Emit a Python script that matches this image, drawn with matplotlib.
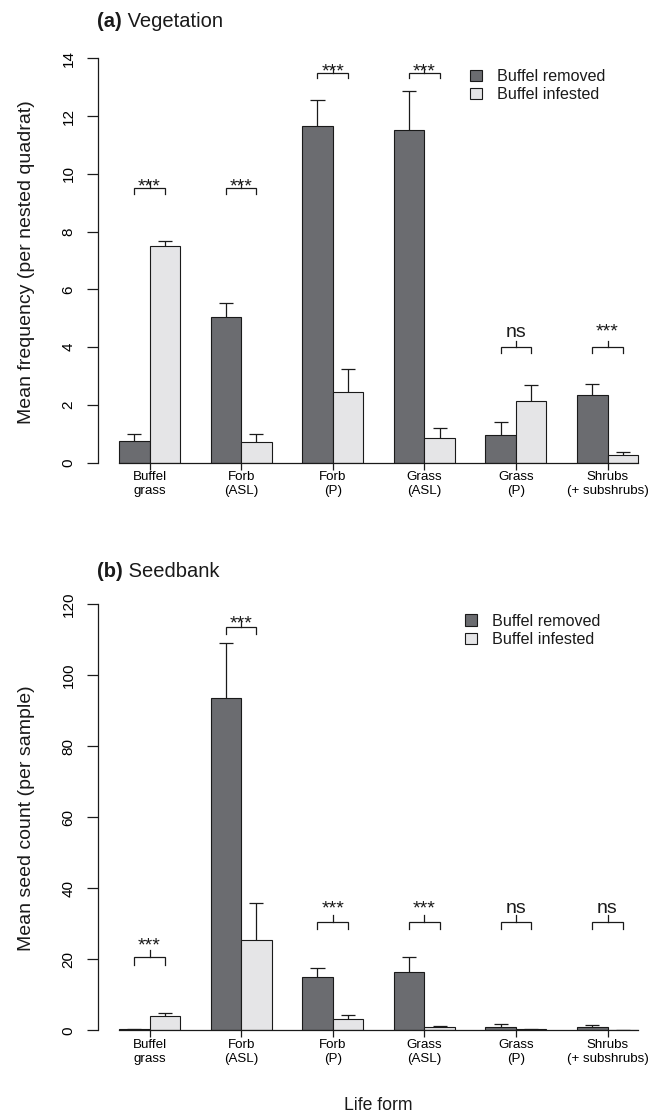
import numpy as np
import matplotlib
matplotlib.use("Agg")
import matplotlib.pyplot as plt

plt.rcParams['font.family'] = ['Liberation Sans', 'DejaVu Sans']
plt.rcParams['text.color'] = '#1a1a1a'

# data
life_forms = ["Buffel\ngrass", "Forb\n(ASL)", "Forb\n(P)", "Grass\n(ASL)", "Grass\n(P)",
              "Shrubs\n(+ subshrubs)"]

veg_removed = [0.75, 5.05, 11.66, 11.50, 0.96, 2.34]
veg_removed_se = [0.22, 0.48, 0.90, 1.37, 0.45, 0.39]
veg_infested = [7.50, 0.71, 2.43, 0.84, 2.13, 0.25]
veg_infested_se = [0.17, 0.29, 0.80, 0.35, 0.54, 0.12]
veg_bracket = [9.5, 9.5, 13.5, 13.5, 4.0, 4.0]
veg_sig = ["***", "***", "***", "***", "ns", "***"]
veg_sig_y = [9.37, 9.37, 13.38, 13.38, 4.35, 4.35]

seed_removed = [0.3, 93.4, 15.1, 16.5, 1.0, 0.9]
seed_removed_se = [0.2, 15.5, 2.3, 4.1, 0.9, 0.5]
seed_infested = [3.9, 25.5, 3.1, 0.8, 0.3, 0.1]
seed_infested_se = [1.1, 10.3, 1.1, 0.3, 0.1, 0.05]
seed_bracket = [20.5, 113.5, 30.5, 30.5, 30.5, 30.5]
seed_sig = ["***", "***", "***", "***", "ns", "ns"]
seed_sig_y = [22.6, 113.2, 33.0, 33.0, 33.0, 33.0]

DARK = '#6b6c70'
LIGHT = '#e5e5e7'
INK = '#1a1a1a'

W, H = 662, 1116
fig = plt.figure(figsize=(W / 100, H / 100), dpi=100)


def axes_px(left, top, right, bottom):
    return fig.add_axes([left / W, 1 - bottom / H, (right - left) / W, (bottom - top) / H])


def panel(ax, removed, removed_se, infested, infested_se, bracket, sig, sig_y,
          leg, yticks, ytop, ylabel, tag, title, title_y, ylabel_y, legend_xy):
    n = len(removed)
    g = np.arange(n) * 3
    xr = g + 0.5
    xi = g + 1.5
    removed = np.array(removed)
    infested = np.array(infested)

    ax.bar(xr, removed, width=1, color=DARK, edgecolor=INK, linewidth=0.8,
           label='Buffel removed', zorder=2)
    ax.bar(xi, infested, width=1, color=LIGHT, edgecolor=INK, linewidth=0.8,
           label='Buffel infested', zorder=2)

    # upper error bars only
    for x, v, e in [(xr, removed, removed_se), (xi, infested, infested_se)]:
        top = v + np.array(e)
        ax.vlines(x, v, top, color=INK, lw=0.9, zorder=3)
        ax.hlines(top, x - 0.23, x + 0.23, color=INK, lw=0.9, zorder=3)

    # significance brackets
    for i in range(n):
        y = bracket[i]
        ax.plot([xr[i], xr[i], xi[i], xi[i]], [y - leg, y, y, y - leg],
                color=INK, lw=0.9, solid_joinstyle='miter', zorder=3)
        ax.plot([g[i] + 1, g[i] + 1], [y, y + leg], color=INK, lw=0.9, zorder=3)
        ax.text(g[i] + 1, sig_y[i], sig[i], ha='center', va='baseline',
                fontsize=14, color=INK)

    ax.set_xlim(-0.68, 3 * n - 1 + 0.68)
    ax.set_ylim(0, ytop)
    for s in ['top', 'right']:
        ax.spines[s].set_visible(False)
    ax.spines['left'].set_bounds(yticks[0], yticks[-1])
    ax.spines['bottom'].set_bounds(0, 3 * n - 1)
    for s in ['left', 'bottom']:
        ax.spines[s].set_linewidth(0.9)
        ax.spines[s].set_color(INK)

    ax.set_xticks(g + 1)
    ax.set_xticklabels(life_forms, fontsize=9.6, linespacing=1.25)
    ax.tick_params(axis='x', length=5.3, width=0.9, pad=0.8, color=INK)
    ax.set_yticks(yticks)
    ax.set_yticklabels([str(t) for t in yticks], fontsize=11, rotation=90, va='center')
    ax.tick_params(axis='y', length=7.9, width=0.9, pad=8.5, color=INK)

    fig.text(27 / W, 1 - ylabel_y / H, ylabel, rotation=90, ha='center', va='center',
             fontsize=14)

    t = fig.text(97 / W, 1 - title_y / H, tag, fontsize=14.5, fontweight='bold',
                 va='baseline')
    ax.annotate(' ' + title, xy=(1, 0), xycoords=t, va='bottom', ha='left',
                fontsize=14.5)

    ax.legend(loc='upper left', bbox_to_anchor=legend_xy, frameon=False, fontsize=11.6,
              handlelength=0.73, handleheight=0.73, handletextpad=0.93,
              labelspacing=0.2, borderpad=0, borderaxespad=0)


ax_a = axes_px(98.3, 42.1, 658.8, 462.5)
panel(ax_a, veg_removed, veg_removed_se, veg_infested, veg_infested_se,
      veg_bracket, veg_sig, veg_sig_y, 0.2, list(range(0, 15, 2)), 14.56,
      'Mean frequency (per nested quadrat)', '(a)', 'Vegetation', 26.7, 262,
      (0.663, 0.936))

ax_b = axes_px(98.3, 586.8, 658.8, 1030.3)
panel(ax_b, seed_removed, seed_removed_se, seed_infested, seed_infested_se,
      seed_bracket, seed_sig, seed_sig_y, 2.0, list(range(0, 121, 20)), 124.8,
      'Mean seed count (per sample)', '(b)', 'Seedbank', 577, 818,
      (0.654, 0.939))

fig.text(378.5 / W, 1 - 1105 / H, 'Life form', ha='center', va='center', fontsize=12.7)

fig.savefig('out.png', dpi=100)
